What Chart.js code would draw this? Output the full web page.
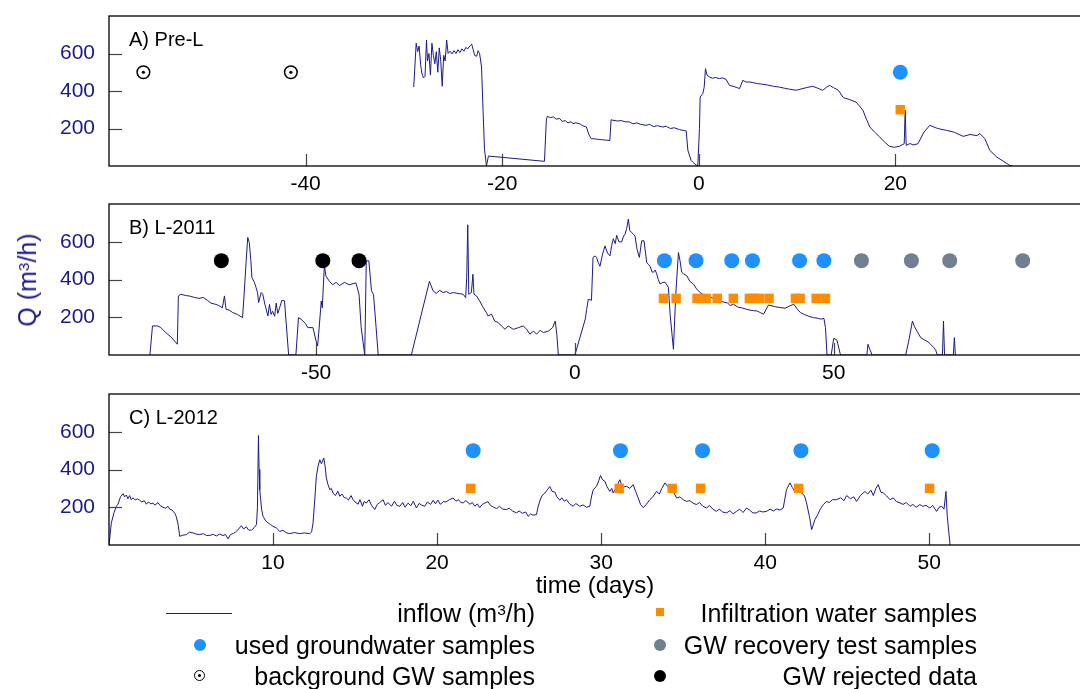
<!DOCTYPE html>
<html><head><meta charset="utf-8">
<script src="https://cdn.jsdelivr.net/npm/chart.js@4.4.1/dist/chart.umd.min.js"></script>
<style>
html,body{margin:0;padding:0;background:#fff;overflow:hidden;width:1080px;height:689px;}
body{position:relative;font-family:'Liberation Sans',Arial,sans-serif;}
canvas{position:absolute;left:0;}
.t{position:absolute;white-space:nowrap;color:#000;font-size:25px;line-height:30px;}
sup{font-size:0.62em;position:relative;top:-0.45em;vertical-align:baseline;line-height:0;}
.mk{position:absolute;}
</style></head><body>
<canvas id="cA" width="1100" height="200" style="top:0px"></canvas>
<canvas id="cB" width="1100" height="200" style="top:188px"></canvas>
<canvas id="cC" width="1100" height="200" style="top:378px"></canvas>
<div id="ytitle" style="position:absolute;left:27px;top:280px;transform:translate(-50%,-50%) rotate(-90deg);color:#1a1a8a;font-size:25px;white-space:nowrap;line-height:30px;">Q (m<sup>3</sup>/h)</div>
<div id="xtitle" style="position:absolute;left:595px;top:585px;transform:translate(-50%,-50%);color:#000;font-size:24px;white-space:nowrap;line-height:28px;">time (days)</div>

<div class="mk" style="left:166px;top:613px;width:66px;height:1px;background:#1a1a8a;"></div>
<div class="t" style="right:545px;top:598px;">inflow (m<sup>3</sup>/h)</div>
<div class="mk" style="left:656px;top:608px;width:8px;height:8px;background:#ff8c00;"></div>
<div class="t" style="right:103px;top:598px;">Infiltration water samples</div>

<div class="mk" style="left:194px;top:639px;width:12px;height:12px;border-radius:50%;background:#1e90ff;"></div>
<div class="t" style="right:545px;top:630px;">used groundwater samples</div>
<div class="mk" style="left:654px;top:639px;width:12px;height:12px;border-radius:50%;background:#708090;"></div>
<div class="t" style="right:103px;top:630px;">GW recovery test samples</div>

<div class="mk" style="left:194px;top:670px;width:9px;height:9px;border-radius:50%;border:1.5px solid #000;"></div>
<div class="mk" style="left:198px;top:674px;width:3px;height:3px;border-radius:50%;background:#000;"></div>
<div class="t" style="right:545px;top:661px;">background GW samples</div>
<div class="mk" style="left:654px;top:670px;width:12px;height:12px;border-radius:50%;background:#000;"></div>
<div class="t" style="right:103px;top:661px;">GW rejected data</div>

<script>
// ---------- Panel A: Pre-L ----------
const preL_t = [-29.0,-28.85,-28.75,-28.6,-28.45,-28.3,-28.15,-28.0,-27.85,-27.7,-27.6,-27.45,-27.3,-27.15,-27.0,-26.85,-26.7,-26.55,-26.4,-26.25,-26.1,-25.95,-25.8,-25.65,-25.5,-25.3,-25.1,-24.9,-24.7,-24.5,-24.3,-24.1,-23.9,-23.7,-23.5,-23.3,-23.1,-22.95,-22.8,-22.6,-22.45,-22.3,-22.1,-21.95,-21.8,-21.6,-21.4,-15.7,-15.5,-15.4,-15.1,-14.8,-14.5,-14.15,-13.9,-13.6,-13.3,-13.0,-12.79,-12.5,-12.14,-11.8,-11.43,-11.2,-10.95,-10.6,-10.2,-9.8,-9.4,-9.05,-8.92,-8.75,-8.3,-7.9,-7.5,-7.05,-6.7,-6.3,-5.9,-5.36,-5.0,-4.6,-4.2,-3.66,-3.3,-2.9,-2.5,-1.96,-1.6,-1.28,-1.11,-0.78,-0.4,-0.1,0.07,0.14,0.41,0.55,0.68,0.85,1.09,1.4,1.7,2.1,2.4,2.78,3.12,3.5,3.8,4.14,4.48,4.8,5.16,5.5,5.9,6.51,7.0,7.6,8.2,8.7,9.2,9.9,10.5,11.1,11.6,12.1,12.6,13.0,13.3,13.7,14.2,14.7,15.3,16.0,16.35,16.7,17.05,17.4,17.9,18.4,18.9,19.4,19.9,20.4,20.9,21.0,21.1,21.5,21.8,22.3,22.9,23.5,24.3,25.2,26.0,26.9,27.6,28.3,28.6,29.1,29.6,30.3,31.0,31.6,31.9];
const preL_q = [421,560,655,610,640,540,490,470,478,672,560,600,485,655,590,545,610,500,630,560,425,590,560,672,600,612,598,615,600,620,605,625,612,632,625,640,650,620,590,585,615,600,528,300,90,0,53,25,250,265,258,262,250,253,238,242,230,236,226,230,226,215,208,170,146,145,142,140,138,136,247,244,240,242,236,235,225,230,222,217,222,210,215,208,212,200,204,194,190,187,84,30,10,0,200,368,386,420,519,484,475,468,472,466,470,462,430,425,420,413,457,448,448,445,440,436,432,425,421,415,410,404,412,420,425,415,404,420,430,418,404,365,355,341,320,297,250,208,180,155,128,105,100,105,119,297,110,120,112,119,180,217,200,190,180,158,168,162,173,146,84,48,25,4,0];
const preL_bg_t = [-56.5,-41.5];
const preL_bg_q = [500,500];
const preL_used_t = [20.5];
const preL_used_q = [500];
const preL_inf_t = [20.5];
const preL_inf_q = [300];

// ---------- Panel B: L-2011 ----------
const l2011_t = [-82.1,-81.6,-80.6,-80.0,-79.0,-78.0,-76.8,-76.6,-76.1,-75.2,-74.4,-73.5,-72.6,-71.8,-71.0,-70.3,-69.35,-68.8,-68.1,-67.7,-67.4,-66.8,-66.1,-65.2,-64.2,-63.9,-63.5,-63.2,-62.9,-62.6,-62.4,-61.9,-61.6,-61.3,-61.1,-60.6,-60.3,-59.9,-59.7,-59.3,-59.0,-58.7,-58.4,-58.0,-57.7,-57.4,-57.1,-56.6,-56.1,-55.8,-55.3,-53.9,-53.4,-52.9,-52.0,-51.6,-50.6,-50.0,-49.7,-49.3,-49.0,-48.8,-48.4,-48.1,-47.4,-46.8,-46.1,-45.5,-44.5,-43.6,-42.3,-41.7,-41.3,-40.6,-40.3,-39.8,-39.3,-38.9,-38.4,-38.0,-31.6,-28.1,-27.4,-26.8,-26.1,-25.5,-24.8,-24.2,-23.5,-22.6,-21.6,-21.1,-20.9,-20.7,-20.5,-20.0,-19.7,-19.5,-19.0,-18.4,-17.7,-17.1,-16.8,-16.1,-15.5,-14.8,-14.2,-13.5,-12.9,-11.9,-10.9,-10.0,-9.3,-8.7,-8.0,-7.4,-6.7,-6.1,-5.1,-4.3,-3.8,-3.5,-3.2,0.0,0.97,2.0,2.26,2.58,3.2,3.5,3.9,4.19,4.5,4.84,5.3,5.81,6.3,6.77,7.1,7.42,7.8,8.06,8.5,9.03,9.4,9.68,10.0,10.32,10.6,10.97,11.3,11.61,12.0,12.45,12.9,13.35,13.87,14.2,14.52,14.9,15.16,15.5,15.8,16.1,16.45,17.0,17.42,17.8,18.06,18.39,19.03,19.48,20.0,20.3,20.64,21.0,21.61,22.2,22.9,23.5,24.19,24.8,25.5,26.3,27.2,28.06,28.8,29.5,30.0,30.64,31.4,32.2,33.2,33.8,34.5,35.2,35.8,36.45,36.9,37.4,38.1,38.8,39.7,40.6,41.5,42.3,42.9,43.55,44.3,45.2,46.1,46.9,47.5,48.1,48.4,48.7,49.5,50.0,50.6,51.3,56.4,56.6,56.97,57.4,63.9,64.6,65.2,65.6,66.1,66.8,67.5,68.2,68.7,69.3,69.7,70.0,71.0,71.2,71.4,73.1,73.3,73.5];
const l2011_q = [0,154,154,145,118,95,57,313,322,315,312,305,300,305,290,275,268,262,250,313,242,238,225,215,198,322,499,623,596,500,411,384,358,330,278,331,322,270,250,207,268,215,232,205,275,220,245,290,287,180,0,0,198,190,165,145,145,74,48,180,286,250,475,418,390,372,385,368,385,372,382,322,150,0,499,499,340,320,145,0,0,390,340,326,343,331,336,326,331,326,322,304,411,690,322,331,428,322,313,286,251,225,207,216,180,172,154,136,154,136,145,154,136,110,127,110,131,119,127,145,180,110,0,0,92,190,240,295,290,517,525,517,490,470,530,578,540,525,580,616,590,634,600,599,630,640,670,720,660,648,640,630,560,517,605,605,490,480,470,440,438,450,430,400,376,385,385,370,358,216,30,322,543,500,438,430,420,390,376,350,331,320,313,305,295,286,280,275,262,269,255,250,242,238,235,233,225,216,240,265,260,255,251,248,260,269,245,225,215,205,198,195,190,194,145,0,0,88,80,0,0,57,30,0,0,90,180,150,125,92,80,70,57,40,25,0,0,180,0,0,92,0];
const l2011_used_t = [17.3,23.4,30.3,34.3,43.4,48.1];
const l2011_used_q = [500,500,500,500,500,500];
const l2011_inf_t = [17.1,19.55,23.6,25.35,27.5,30.6,33.7,34.6,35.6,37.5,42.6,43.5,46.6,48.4];
const l2011_inf_q = [300,300,300,300,300,300,300,300,300,300,300,300,300,300];
const l2011_rec_t = [55.35,65.0,72.4,86.5];
const l2011_rec_q = [500,500,500,500];
const l2011_rej_t = [-68.3,-48.7,-41.7];
const l2011_rej_q = [500,500,500];

// ---------- Panel C: L-2012 ----------
const l2012_t = [0.0,0.14,0.3,0.45,0.55,0.7,0.86,0.95,1.06,1.15,1.26,1.35,1.47,1.6,1.75,1.87,2.0,2.15,2.28,2.4,2.55,2.68,2.8,2.99,3.1,3.29,3.45,3.6,3.7,3.85,4.01,4.1,4.21,4.31,4.5,4.72,4.9,5.12,5.3,5.53,5.75,5.95,6.14,6.35,6.55,6.75,6.95,7.1,7.26,7.4,7.6,7.77,7.9,8.07,8.2,8.38,8.5,8.68,8.85,8.99,9.05,9.11,9.15,9.19,9.3,9.39,9.55,9.7,9.85,10.0,10.2,10.41,10.6,10.8,11.02,11.3,11.63,11.9,12.24,12.35,12.44,12.55,12.64,12.75,12.85,12.95,13.09,13.17,13.25,13.35,13.46,13.55,13.66,13.8,13.95,14.07,14.2,14.35,14.47,14.6,14.75,14.88,15.0,15.19,15.3,15.45,15.55,15.69,15.85,16.0,16.2,16.35,16.5,16.71,16.85,17.0,17.22,17.4,17.55,17.73,17.9,18.05,18.23,18.4,18.55,18.74,18.9,19.05,19.25,19.4,19.6,19.76,19.9,20.05,20.2,20.37,20.55,20.75,20.98,21.15,21.3,21.45,21.59,21.75,22.0,22.15,22.3,22.45,22.6,22.75,22.9,23.1,23.25,23.45,23.63,23.8,24.0,24.23,24.4,24.6,24.84,25.0,25.2,25.4,25.55,25.7,25.85,26.06,26.15,26.26,26.4,26.57,26.7,26.87,27.0,27.18,27.3,27.48,27.6,27.75,27.89,28.05,28.3,28.45,28.7,28.9,29.11,29.31,29.42,29.52,29.72,29.85,29.96,30.1,30.23,30.35,30.53,30.65,30.73,30.9,31.14,31.3,31.55,31.75,31.95,32.1,32.26,32.4,32.57,32.75,32.97,33.15,33.38,33.55,33.7,33.89,34.05,34.19,34.35,34.6,34.8,35.0,35.2,35.4,35.6,35.8,36.0,36.2,36.43,36.6,36.8,37.03,37.2,37.4,37.65,37.85,38.05,38.25,38.45,38.65,38.86,39.05,39.25,39.47,39.65,39.85,40.08,40.3,40.5,40.69,40.9,41.1,41.3,41.51,41.65,41.81,42.0,42.22,42.4,42.52,42.7,42.83,43.03,43.2,43.34,43.55,43.74,43.9,44.1,44.35,44.6,44.8,44.97,45.2,45.4,45.57,45.8,46.08,46.25,46.45,46.59,46.75,46.89,47.05,47.2,47.4,47.61,47.8,48.0,48.22,48.4,48.6,48.83,49.0,49.2,49.43,49.6,49.8,50.04,50.2,50.45,50.6,50.76,50.9,51.02,51.1,51.27];
const l2012_q = [0,116,170,205,216,255,272,255,265,245,262,240,250,238,245,237,228,235,216,228,218,222,212,225,210,200,195,205,190,185,168,150,110,46,52,55,68,64,58,55,60,50,51,56,48,58,50,56,32,55,62,72,85,102,85,96,80,78,92,108,200,580,400,293,190,152,128,117,108,99,90,72,78,65,60,66,60,64,60,70,117,250,364,420,452,430,461,420,355,320,293,300,275,262,285,258,270,250,249,238,262,240,228,216,240,205,230,222,240,210,188,215,225,240,210,225,205,232,210,205,225,200,222,208,232,196,220,212,205,228,215,237,218,238,215,230,228,240,249,232,240,225,223,235,216,225,205,218,198,215,222,230,210,200,193,205,190,188,195,180,170,180,168,175,152,165,158,161,200,233,262,275,290,310,285,280,255,237,250,232,240,220,205,220,205,212,200,205,260,293,311,340,368,345,337,310,284,300,276,300,346,305,311,300,320,285,249,215,198,215,240,255,284,270,300,329,310,302,290,249,255,240,231,235,222,214,225,205,196,210,190,178,190,175,170,182,165,178,190,172,196,185,170,170,180,175,178,190,180,191,185,196,293,329,305,284,290,276,260,223,150,81,134,160,187,215,231,225,240,240,250,235,262,245,255,231,262,284,270,290,262,300,320,280,276,260,240,250,230,223,215,225,205,215,200,214,205,210,196,210,178,200,205,190,284,152,0];
const l2012_used_t = [22.2,31.18,36.18,42.18,50.18];
const l2012_used_q = [500,500,500,500,500];
const l2012_inf_t = [22.05,31.1,34.33,36.06,42.04,50.02];
const l2012_inf_q = [300,300,300,300,300,300];

// ---------- axis ticks ----------
const yTicks = [200,400,600];
const xTicksA = [-40,-20,0,20];
const xTicksB = [-50,0,50];
const xTicksC = [10,20,30,40,50];

const NAVY = '#1a1a8a';
const BLUE = '#1e90ff', ORANGE = '#ff8c00', GREY = '#708090';
Chart.defaults.font.family = "'Liberation Sans', Arial, sans-serif";

function pts(t, q){ return t.map((v,i)=>({x:v, y:q[i]})); }

const frame = {
  id:'frame',
  afterDraw(chart, args, opts){
    const ctx = chart.ctx, a = chart.chartArea, x = chart.scales.x, y = chart.scales.y;
    ctx.save();
    ctx.strokeStyle = '#444'; ctx.lineWidth = 1.2;
    x.ticks.forEach(t=>{ const p = Math.round(x.getPixelForValue(t.value))+0.5;
      ctx.beginPath(); ctx.moveTo(p, a.bottom); ctx.lineTo(p, a.bottom-12); ctx.stroke(); });
    y.ticks.forEach(t=>{ const p = Math.round(y.getPixelForValue(t.value))+0.5;
      ctx.beginPath(); ctx.moveTo(a.left, p); ctx.lineTo(a.left+13, p); ctx.stroke(); });
    ctx.strokeStyle = '#000'; ctx.lineWidth = 1.3;
    ctx.strokeRect(a.left, a.top, a.right-a.left, a.bottom-a.top);
    ctx.fillStyle = '#000'; ctx.font = "20px 'Liberation Sans', Arial, sans-serif";
    ctx.textBaseline = 'alphabetic'; ctx.textAlign = 'left';
    ctx.fillText(opts.text, a.left+20, a.top+29.5);
    ctx.restore();
  }
};

function lineDs(t,q){ return {data:pts(t,q), showLine:true, borderColor:NAVY, borderWidth:1, pointRadius:0, tension:0, order:10}; }
function dotDs(t,q,color){ return {data:pts(t,q), showLine:false, pointStyle:'circle', pointRadius:7.5, backgroundColor:color, borderWidth:0, order:1}; }
function sqDs(t,q){ return {data:pts(t,q), showLine:false, pointStyle:'rect', pointRadius:6.7, backgroundColor:ORANGE, borderWidth:0, order:2}; }

function makeChart(id, datasets, xmin, xmax, xticks, label, axisH){
  new Chart(document.getElementById(id), {
    type:'scatter',
    data:{datasets},
    options:{
      responsive:false, animation:false, devicePixelRatio:1,
      layout:{padding:{left:0, right:10, top:16, bottom:0}},
      plugins:{legend:{display:false}, tooltip:{enabled:false}, frame:{text:label}},
      scales:{
        x:{type:'linear', min:xmin, max:xmax,
           afterBuildTicks:s=>{ s.ticks = xticks.map(v=>({value:v})); },
           afterFit:s=>{ s.height = axisH; s.paddingLeft = 0; s.paddingRight = 0; },
           grid:{display:false, drawTicks:false}, border:{display:false},
           ticks:{font:{size:21}, color:'#000', padding:6, maxRotation:0, autoSkip:false}},
        y:{type:'linear', min:0, max:800,
           afterBuildTicks:s=>{ s.ticks = yTicks.map(v=>({value:v})); },
           afterFit:s=>{ s.width = 109; s.paddingTop = 0; s.paddingBottom = 0; },
           grid:{display:false, drawTicks:false}, border:{display:false},
           ticks:{font:{size:21}, color:NAVY, padding:14}}
      }
    },
    plugins:[frame]
  });
}

makeChart('cA', [
  lineDs(preL_t, preL_q),
  {data:pts(preL_bg_t, preL_bg_q), showLine:false, pointStyle:'circle', pointRadius:6.3, backgroundColor:'rgba(255,255,255,0)', borderColor:'#000', borderWidth:1.5, order:1},
  {data:pts(preL_bg_t, preL_bg_q), showLine:false, pointStyle:'circle', pointRadius:1.6, backgroundColor:'#000', borderWidth:0, order:0},
  dotDs(preL_used_t, preL_used_q, BLUE),
  sqDs(preL_inf_t, preL_inf_q)
], -60, 39.8, xTicksA, 'A) Pre-L', 34);

makeChart('cB', [
  lineDs(l2011_t, l2011_q),
  dotDs(l2011_used_t, l2011_used_q, BLUE),
  sqDs(l2011_inf_t, l2011_inf_q),
  dotDs(l2011_rec_t, l2011_rec_q, GREY),
  dotDs(l2011_rej_t, l2011_rej_q, '#000')
], -90, 99.5, xTicksB, 'B) L-2011', 33);

makeChart('cC', [
  lineDs(l2012_t, l2012_q),
  dotDs(l2012_used_t, l2012_used_q, BLUE),
  sqDs(l2012_inf_t, l2012_inf_q)
], 0, 59.8, xTicksC, 'C) L-2012', 33);
</script>
</body></html>
